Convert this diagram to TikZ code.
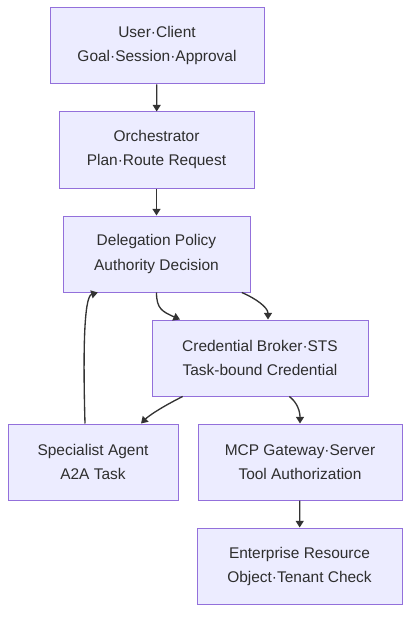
\documentclass[tikz,border=0pt]{standalone}
\usepackage{fontspec}
\setmainfont{Liberation Sans}
\usepackage{xcolor}
\usetikzlibrary{arrows.meta}
\definecolor{boxfill}{HTML}{ECECFF}
\definecolor{boxline}{HTML}{9370DB}
\definecolor{edge}{HTML}{333333}
\begin{document}
\begin{tikzpicture}[x=0.75pt,y=-0.75pt,
      block/.style={draw=boxline, fill=boxfill, line width=0.75pt,
        minimum height=57pt, align=center, text=edge!90!black,
        font=\fontsize{11.6}{18}\selectfont},
      flow/.style={draw=edge, line width=1pt,
        -{Triangle[length=5pt,width=6pt]}}]
      \useasboundingbox (0,0) rectangle (419,624);
      \node[block, minimum width=160.5pt] (user)   at (157,46)  {User·Client\\Goal·Session·Approval};
      \node[block, minimum width=146.25pt] (orch)  at (156.5,150) {Orchestrator\\Plan·Route Request};
      \node[block, minimum width=140.25pt] (deleg) at (156.5,254) {Delegation Policy\\Authority Decision};
      \node[block, minimum width=162pt] (broker)   at (260,358) {Credential Broker·STS\\Task-bound Credential};
      \node[block, minimum width=127.5pt] (agent)  at (93,462)  {Specialist Agent\\A2A Task};
      \node[block, minimum width=153pt] (mcp)      at (300,462) {MCP Gateway·Server\\Tool Authorization};
      \node[block, minimum width=153.75pt] (res)   at (299.5,566) {Enterprise Resource\\Object·Tenant Check};
      \draw[flow] (user) -- (orch);
      \draw[flow] (orch) -- (deleg);
      \draw[flow] (deleg.south) .. controls ++(0,16) and ++(-18,-8) .. ([xshift=-60pt]broker.north);
      \draw[flow] ([xshift=64pt]deleg.south) .. controls ++(14,6) and ++(0,-12) .. ([xshift=6pt]broker.north);
      \draw[flow] ([xshift=-58pt]broker.south) .. controls ++(-20,10) and ++(8,-8) .. ([xshift=36pt]agent.north);
      \draw[flow] ([xshift=22pt]broker.south) .. controls ++(8,6) and ++(0,-12) .. (mcp.north);
      \draw[flow] ([xshift=-6pt]agent.north) .. controls ++(-2,-70) and ++(-14,4) .. ([xshift=-44pt]deleg.south);
      \draw[flow] (mcp) -- (res);
    \end{tikzpicture}
\end{document}
